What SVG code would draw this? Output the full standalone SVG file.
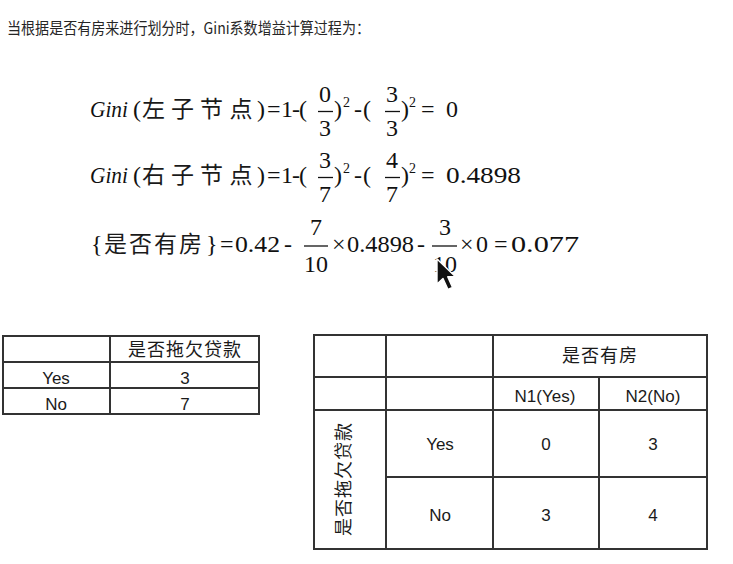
<svg xmlns="http://www.w3.org/2000/svg" width="733" height="564" viewBox="0 0 733 564">
<style>
.title{font-family:"Noto Sans CJK SC","Liberation Sans",sans-serif;font-size:15.5px;fill:#262626}
.m{font-family:"Liberation Serif","DejaVu Serif",serif;font-size:24px;fill:#111}
.it{font-style:italic}
.sup{font-family:"Liberation Serif",serif;font-size:14px;fill:#111}
.cjk{font-family:"Noto Sans CJK SC",sans-serif;font-size:23px;fill:#1a1a1a}
.mid{text-anchor:middle}
.bar{stroke:#111;stroke-width:1.3}
.grid{stroke:#333;stroke-width:2;fill:none}
.t{font-family:"Liberation Sans","Noto Sans CJK SC",sans-serif;font-size:17px;fill:#1a1a1a;text-anchor:middle}
.tc{font-family:"Noto Sans CJK SC",sans-serif;font-size:18px;fill:#1a1a1a;text-anchor:middle;letter-spacing:1px}
</style>
<rect width="733" height="564" fill="#fff"/>
<g id="title"><text class="title" x="7" y="34" textLength="363" lengthAdjust="spacingAndGlyphs">当根据是否有房来进行划分时，Gini系数增益计算过程为：</text></g>

<g id="formula1">
<text class="m it" x="90" y="117" textLength="38" lengthAdjust="spacingAndGlyphs">Gini</text>
<text class="m" x="133" y="117">(</text>
<text class="cjk" x="142 171 200 229.5" y="117">左子节点</text>
<text class="m" x="257" y="117">)</text>
<text class="m" x="267" y="117">=</text>
<text class="m" x="281" y="117">1</text>
<text class="m" x="292" y="117">-</text>
<text class="m" x="299" y="117">(</text>
<text class="m mid" x="325" y="102">0</text>
<line class="bar" x1="318" y1="111.5" x2="333" y2="111.5"/>
<text class="m mid" x="325" y="136">3</text>
<text class="m" x="334" y="117">)</text>
<text class="sup" x="343" y="107">2</text>
<text class="m" x="354" y="117">-</text>
<text class="m" x="363" y="117">(</text>
<text class="m mid" x="392" y="102">3</text>
<line class="bar" x1="385" y1="111.5" x2="400" y2="111.5"/>
<text class="m mid" x="392" y="136">3</text>
<text class="m" x="401" y="117">)</text>
<text class="sup" x="409" y="107">2</text>
<text class="m" x="421" y="117">=</text>
<text class="m" x="446" y="117">0</text>
</g>

<g id="formula2">
<text class="m it" x="90" y="183" textLength="38" lengthAdjust="spacingAndGlyphs">Gini</text>
<text class="m" x="133" y="183">(</text>
<text class="cjk" x="142 171 200 229.5" y="183">右子节点</text>
<text class="m" x="257" y="183">)</text>
<text class="m" x="267" y="183">=</text>
<text class="m" x="281" y="183">1</text>
<text class="m" x="292" y="183">-</text>
<text class="m" x="299" y="183">(</text>
<text class="m mid" x="325" y="168">3</text>
<line class="bar" x1="318" y1="177.5" x2="333" y2="177.5"/>
<text class="m mid" x="325" y="202">7</text>
<text class="m" x="334" y="183">)</text>
<text class="sup" x="343" y="173">2</text>
<text class="m" x="354" y="183">-</text>
<text class="m" x="363" y="183">(</text>
<text class="m mid" x="392" y="168">4</text>
<line class="bar" x1="385" y1="177.5" x2="400" y2="177.5"/>
<text class="m mid" x="392" y="202">7</text>
<text class="m" x="401" y="183">)</text>
<text class="sup" x="409" y="173">2</text>
<text class="m" x="421" y="183">=</text>
<text class="m" x="446" y="183" textLength="75" lengthAdjust="spacingAndGlyphs">0.4898</text>
</g>

<g id="formula3">
<text class="m" x="91" y="252">{</text>
<text class="cjk" x="104 129 154 179" y="252">是否有房</text>
<text class="m" x="206" y="252">}</text>
<text class="m" x="220" y="252">=</text>
<text class="m" x="235" y="252" textLength="45" lengthAdjust="spacingAndGlyphs">0.42</text>
<text class="m" x="284" y="252">-</text>
<text class="m mid" x="316" y="235">7</text>
<line class="bar" x1="304" y1="246" x2="328" y2="246"/>
<text class="m mid" x="316" y="272">10</text>
<text class="m" x="332" y="252">×</text>
<text class="m" x="347" y="252" textLength="67" lengthAdjust="spacingAndGlyphs">0.4898</text>
<text class="m" x="417" y="252">-</text>
<text class="m mid" x="445" y="235">3</text>
<line class="bar" x1="432" y1="246" x2="457" y2="246"/>
<text class="m mid" x="445" y="272">10</text>
<text class="m" x="460" y="252">×</text>
<text class="m" x="476" y="252">0</text>
<text class="m" x="494" y="252">=</text>
<text class="m" x="511" y="252" textLength="68" lengthAdjust="spacingAndGlyphs">0.077</text>
</g>

<g id="cursor">
<path d="M437,259 L437,284 L443,278.5 L448,289.5 L452.5,287.5 L447.7,276.8 L455.5,276.8 Z" fill="#111" stroke="#fff" stroke-width="1.4" stroke-linejoin="round"/>
</g>

<g id="table-left">
<path class="grid" d="M3,336 H259 V414 H3 Z M3,362 H259 M3,388 H259 M110,336 V414"/>
<text class="tc" x="185" y="356">是否拖欠贷款</text>
<text class="t" x="56" y="384">Yes</text>
<text class="t" x="185" y="384">3</text>
<text class="t" x="56" y="410">No</text>
<text class="t" x="185" y="410">7</text>
</g>

<g id="table-right">
<path class="grid" d="M314,335 H707 V549 H314 Z M314,377 H707 M314,410 H707 M386,477 H707 M386,335 V549 M493,335 V549 M599,377 V549"/>
<text class="tc" x="600" y="362">是否有房</text>
<text class="t" x="545" y="402">N1(Yes)</text>
<text class="t" x="653" y="402">N2(No)</text>
<text class="tc" transform="translate(344,479) rotate(-90)" x="0" y="6">是否拖欠贷款</text>
<text class="t" x="440" y="450">Yes</text>
<text class="t" x="546" y="450">0</text>
<text class="t" x="653" y="450">3</text>
<text class="t" x="440" y="521">No</text>
<text class="t" x="546" y="521">3</text>
<text class="t" x="653" y="521">4</text>
</g>
</svg>
